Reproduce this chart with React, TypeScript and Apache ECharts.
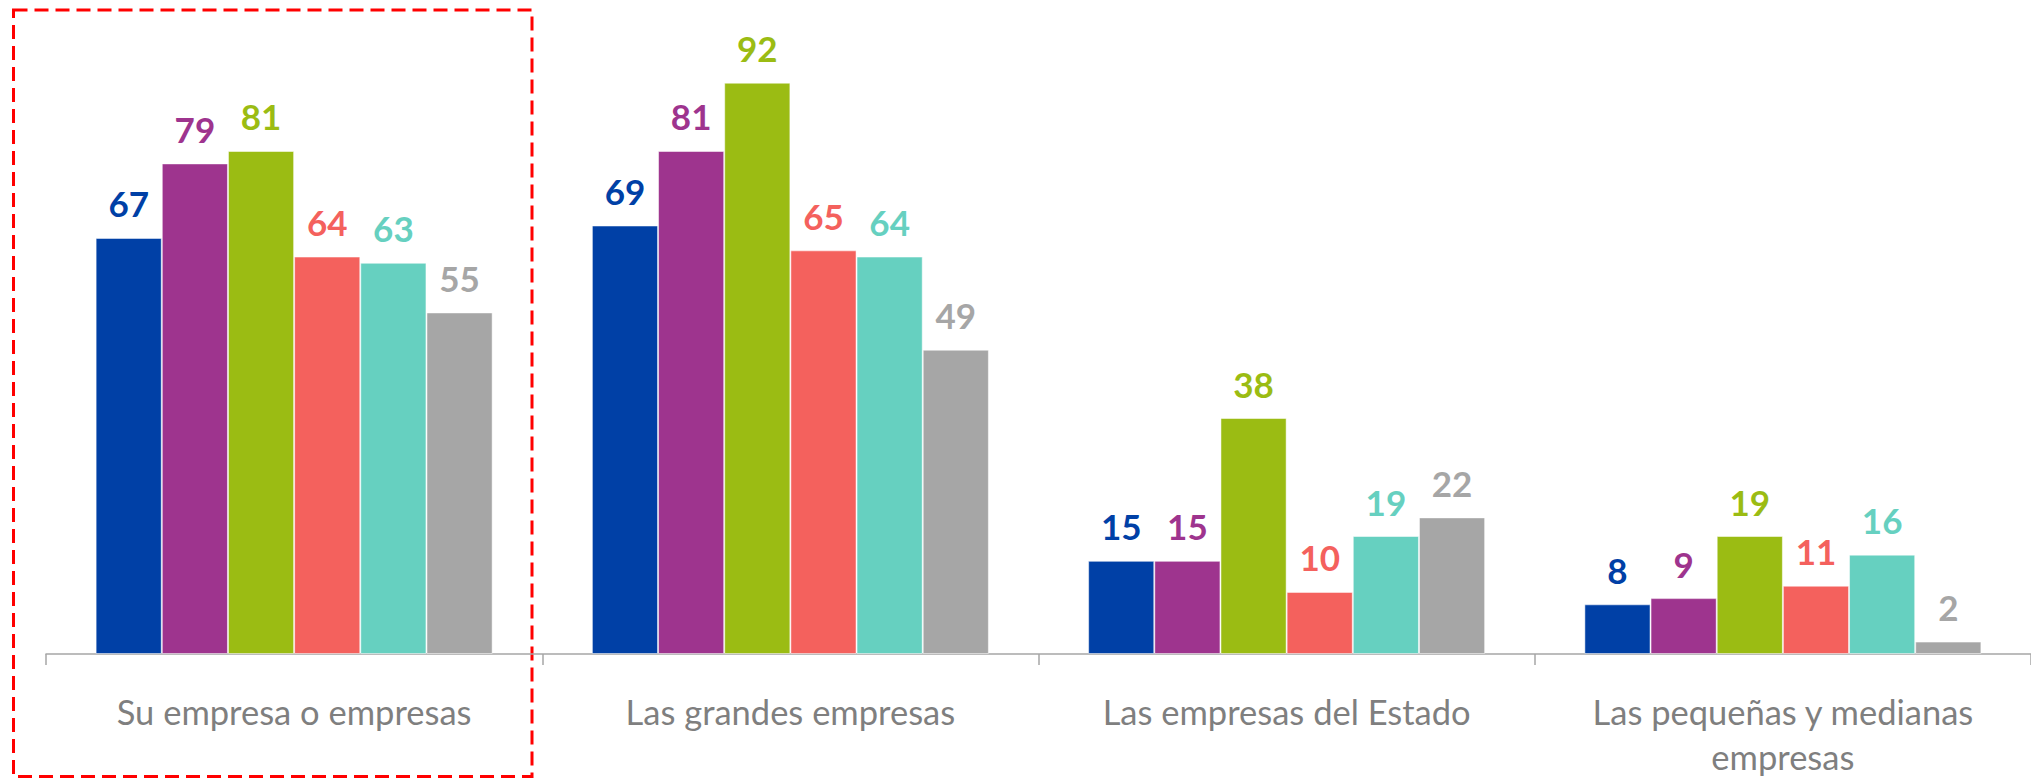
import React, { useEffect, useRef } from "react";
import * as echarts from "echarts";

const categories = [
  "Su empresa o empresas",
  "Las grandes empresas",
  "Las empresas del Estado",
  "Las pequeñas y medianas\nempresas",
];
const seriesNames = ["Serie 1", "Serie 2", "Serie 3", "Serie 4", "Serie 5", "Serie 6"];
const seriesColors = ["#0040A6", "#9E348E", "#9BBC13", "#F4615D", "#66D0C0", "#A6A6A6"];
const serie1 = [67, 69, 15, 8];
const serie2 = [79, 81, 15, 9];
const serie3 = [81, 92, 38, 19];
const serie4 = [64, 65, 10, 11];
const serie5 = [63, 64, 19, 16];
const serie6 = [55, 49, 22, 2];
const allSeries = [serie1, serie2, serie3, serie4, serie5, serie6];

export default function App() {
  const ref = useRef<HTMLDivElement>(null);
  useEffect(() => {
    if (!ref.current) return;
    const chart = echarts.init(ref.current, undefined, { renderer: "svg" });
    chart.setOption({
      animation: false,
      backgroundColor: "#ffffff",
      grid: { left: 46, right: -9, top: 33, bottom: 121, containLabel: false },
      xAxis: {
        type: "category",
        data: categories,
        axisLine: { show: true, lineStyle: { color: "#A6A6A6", width: 1.5 } },
        axisTick: { show: true, interval: 0, length: 11, lineStyle: { color: "#A6A6A6", width: 1.5 } },
        axisLabel: {
          interval: 0,
          hideOverlap: false,
          color: "#7F7F7F",
          fontFamily: "Lato",
          fontSize: 34.5,
          lineHeight: 45,
          margin: 35,
        },
      },
      yAxis: {
        type: "value",
        min: 0,
        max: 100,
        show: false,
        splitLine: { show: false },
      },
      series: allSeries.map((data, i) => ({
        name: seriesNames[i],
        type: "bar",
        data,
        barGap: "0%",
        barCategoryGap: "20%",
        itemStyle: {
          color: seriesColors[i],
          borderColor: "rgba(255,255,255,0.5)",
          borderWidth: 1,
        },
        label: {
          show: true,
          position: "top",
          distance: 17,
          color: seriesColors[i],
          fontFamily: "Lato",
          fontWeight: "bold",
          fontSize: 35,
        },
      })),
      graphic: [
        {
          type: "rect",
          shape: { x: 13.5, y: 10, width: 518.5, height: 766.5 },
          style: {
            fill: "none",
            stroke: "#FF0000",
            lineWidth: 3,
            lineDash: [14, 7],
          },
          silent: true,
        },
      ],
    });
    return () => chart.dispose();
  }, []);
  return (
    <div
      ref={ref}
      style={{ position: "fixed", left: 0, top: 0, width: 2031, height: 779 }}
    />
  );
}
